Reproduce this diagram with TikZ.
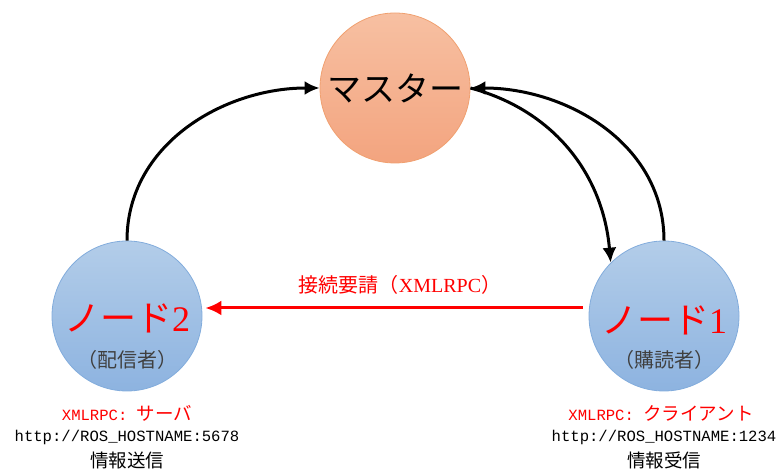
\documentclass[tikz,border=0pt]{standalone}
\usepackage{fontspec}
\setmainfont{Liberation Serif}
\setmonofont{Liberation Mono}
\newfontfamily\cjk{Noto Sans CJK JP}
\usetikzlibrary{arrows.meta}
\definecolor{mastertop}{HTML}{F7C0A2}
\definecolor{masterbot}{HTML}{F3A47F}
\definecolor{masterline}{HTML}{F0A070}
\definecolor{nodetop}{HTML}{B3CDE9}
\definecolor{nodebot}{HTML}{8DB3E0}
\definecolor{nodeline}{HTML}{82ACDC}
\begin{document}
\begin{tikzpicture}[x=1pt, y=1pt,
    master/.style={circle, minimum size=150pt, inner sep=0pt, draw=masterline, line width=0.8pt, top color=mastertop, bottom color=masterbot},
    rosnode/.style={circle, minimum size=150pt, inner sep=0pt, draw=nodeline, line width=0.8pt, top color=nodetop, bottom color=nodebot},
    link/.style={line width=3pt, -{Latex[length=15pt, width=14pt]}},
    request/.style={red, line width=3pt, -{Latex[length=16pt, width=15pt]}},
    nodename/.style={red, font=\fontsize{36}{36}\cjk},
    role/.style={text=black!75, font=\fontsize{20}{20}\cjk},
    info/.style={font=\fontsize{15.6}{18}\ttfamily}]
    \useasboundingbox (0,0) rectangle (778,470);
    % master and the two nodes
    \node[master] (master) at (395,382) {};
    \node[rosnode] (node2) at (127,154) {};
    \node[rosnode] (node1) at (664,154) {};
    \node at (master.center) {\fontsize{34}{34}\cjk マスター};
    \node[nodename] (name2) at (127,152) {ノード\rmfamily 2};
    \node[nodename] (name1) at (664,150) {ノード\rmfamily 1};
    \node[role] (role2) at (127,110) {（配信者）};
    \node[role] (role1) at (664,110) {（購読者）};
    % registration with the master
    \draw[link] (node2.north) to[out=90, in=180] (master.west);
    \draw[link] (node1.north) to[out=90, in=0] (master.east);
    \draw[link] (master.east) to[out=-15, in=95] (node1.135);
    % connection request
    \draw[request, shorten <=6pt, shorten >=3pt] ([yshift=8pt]node1.west) -- ([yshift=8pt]node2.east);
    \node[red, font=\fontsize{20}{20}\selectfont] (req) at (400,185) {{\cjk 接続要請（}XMLRPC{\cjk ）}};
    % addresses
    \node[info, red] (xml2) at (127,57) {XMLRPC:\ {\fontsize{18.5}{18}\cjk サーバ}};
    \node[info] (url2) at (127,33) {http://ROS\_HOSTNAME:5678};
    \node[info] (do2) at (127,10) {\fontsize{18.5}{18}\cjk 情報送信};
    \node[info, red] (xml1) at (661,57) {XMLRPC:\ {\fontsize{18.5}{18}\cjk クライアント}};
    \node[info] (url1) at (664,33) {http://ROS\_HOSTNAME:1234};
    \node[info] (do1) at (664,10) {\fontsize{18.5}{18}\cjk 情報受信};
\end{tikzpicture}
\end{document}
